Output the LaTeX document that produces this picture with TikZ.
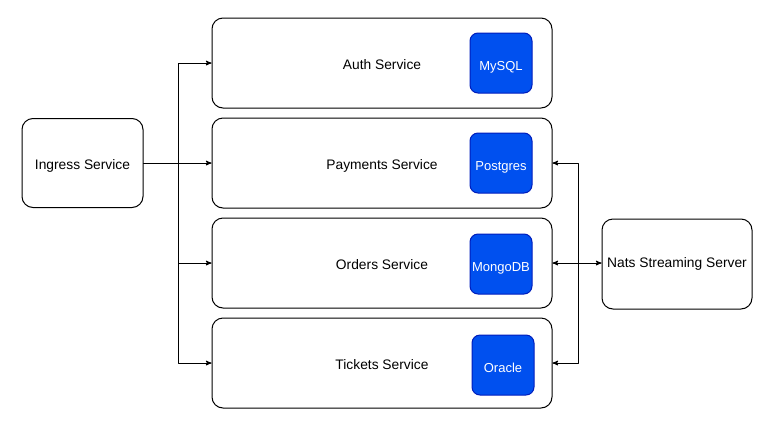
\documentclass[tikz,border=0pt]{standalone}
\usepackage{fontspec}
\setmainfont{Liberation Sans}
\usepackage{xcolor}
\usetikzlibrary{arrows}
\definecolor{dbblue}{HTML}{0050EF}
\definecolor{dbedge}{HTML}{001DBC}
\begin{document}
\begin{tikzpicture}[line cap=round,line join=round,>=stealth',x=1pt,y=-1pt,
		box/.style={draw,line width=1pt,rounded corners=11pt,inner sep=0pt,font=\fontsize{13.8}{16}\selectfont},
		svc/.style={box,minimum width=340pt,minimum height=90pt,text height=12.9pt,text depth=0pt},
		db/.style={draw=dbedge,fill=dbblue,line width=1pt,rounded corners=8pt,minimum width=62pt,minimum height=60pt,inner sep=0pt,text=white,text height=14.3pt,text depth=0pt,font=\fontsize{13}{15}\selectfont},
		link/.style={line width=1pt}]
		\useasboundingbox (0,0) rectangle (769,424);
		\node[box,minimum width=121pt,minimum height=89pt,text height=12.9pt,text depth=0pt] (ingress) at (82.5,163) {Ingress Service};
		\node[svc] (auth) at (382,63) {Auth Service};
		\node[svc] (payments) at (382,163) {Payments Service};
		\node[svc] (orders) at (382,263) {Orders Service};
		\node[svc] (tickets) at (382,363) {Tickets Service};
		\node[box,minimum width=150pt,minimum height=90pt] (nats) at (677,264) {Nats Streaming Server};
		\node[db] (mysql) at (501,63) {MySQL};
		\node[db] (postgres) at (501,163) {Postgres};
		\node[db] (mongodb) at (501,264) {MongoDB};
		\node[db] (oracle) at (503,365) {Oracle};
		\coordinate (split) at (178,163);
		\coordinate (bus) at (578,263);
		\draw [link] (ingress.east)-- (split);
		\draw [link,->] (split) |- (auth.west);
		\draw [link,->] (split) |- (payments.west);
		\draw [link,->] (split) |- (orders.west);
		\draw [link,->] (split) |- (tickets.west);
		\draw [link,<->] (orders.east)-- (nats.west |- orders.east);
		\draw [link,->] (bus) |- (payments.east);
		\draw [link,->] (bus) |- (tickets.east);
\end{tikzpicture}
\end{document}
